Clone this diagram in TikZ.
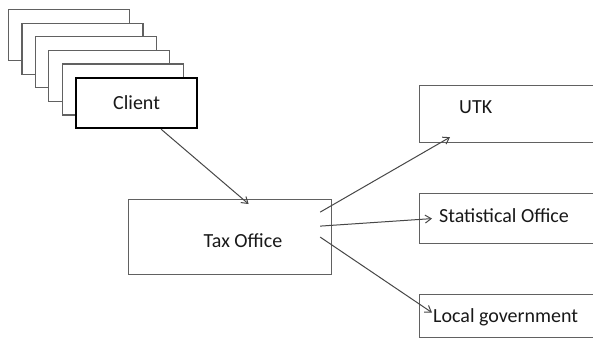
\documentclass[tikz,border=0pt]{standalone}
\usepackage{fontspec}
\setmainfont{Carlito}
\usetikzlibrary{arrows.meta}
\begin{document}
\begin{tikzpicture}[x=1pt,y=-1pt,
	every node/.style={inner sep=0,text=black!90,font=\fontsize{20}{24}\selectfont},
	card/.style={rectangle,draw=black!62,line width=1.2pt,fill=white,anchor=north west,
		minimum width=121pt,minimum height=51pt},
	link/.style={draw=black!72,line width=1pt,-{Straight Barb[length=6pt,width=8pt]}}]
\useasboundingbox[fill=white] (0,0) rectangle (593,338);
% stacked client cards
\foreach \i in {0,...,4}
	\node[card] (back\i) at (8+13.4*\i,9+13.6*\i) {};
\node[card,draw=black,line width=2.2pt,minimum height=50pt] (client) at (75,77) {Client};
% tax office
\node[card,minimum width=203pt,minimum height=75pt] (tax) at (128,199) {};
\node[anchor=base] (taxlbl) at (243,247) {Tax Office};
% receivers
\node[card,minimum width=200pt,minimum height=57pt] (utk) at (419,85) {};
\node[card,minimum width=200pt,minimum height=50pt] (stat) at (419,193) {};
\node[card,minimum width=200pt,minimum height=43pt] (local) at (419,294) {};
\node[anchor=base west] (utklbl) at (459,113) {UTK};
\node[anchor=base west] (statlbl) at (439,222) {Statistical Office};
\node[anchor=base west] (locallbl) at (433,322) {Local government};
% links
\draw[link] ([xshift=24.5pt]client.south) -- ([xshift=18.5pt,yshift=-5pt]tax.north);
\draw[link] ([xshift=-12pt,yshift=25pt]tax.east) -- ([xshift=31pt,yshift=6pt]utk.south west);
\draw[link] ([xshift=-12pt,yshift=11pt]tax.east) -- ([xshift=13pt]stat.west);
\draw[link] ([xshift=-12pt]tax.east) -- ([xshift=13pt,yshift=3.5pt]local.west);
\end{tikzpicture}
\end{document}
